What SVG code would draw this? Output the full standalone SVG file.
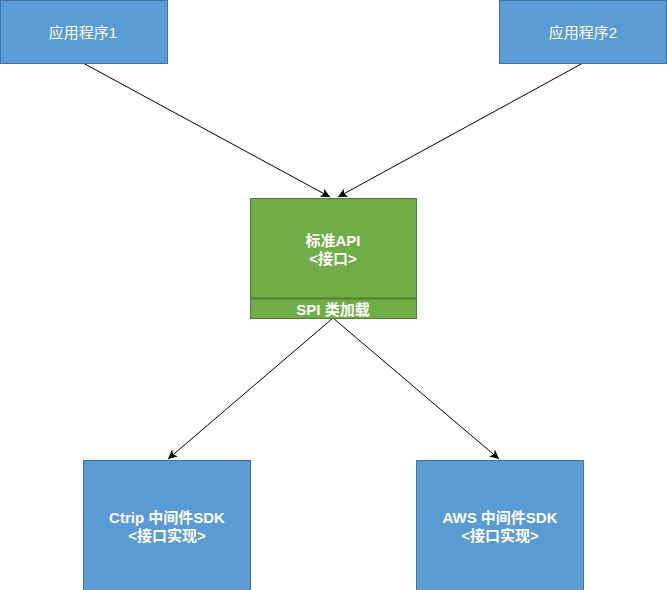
<svg xmlns="http://www.w3.org/2000/svg" width="667" height="590" viewBox="0 0 667 590">
<style>
.blue{fill:#5b9bd5;stroke:#41719c;stroke-width:1}
.green{fill:#70ad47;stroke:#507e32;stroke-width:1}
.t{fill:#ffffff;font-family:"Liberation Sans","Noto Sans CJK SC",sans-serif;font-size:15px;text-anchor:middle;dominant-baseline:central}
.b{font-weight:bold}
.c{stroke:#000;stroke-width:1;fill:none;marker-end:url(#ah)}
</style>
<defs>
<marker id="ah" markerWidth="12" markerHeight="12" refX="9" refY="4.5" orient="auto" markerUnits="userSpaceOnUse">
<path d="M0,0 L9,4.5 L0,9 L2,4.5 Z" fill="#000"/>
</marker>
</defs>
<rect width="667" height="590" fill="#ffffff"/>
<g id="connectors">
<line class="c" x1="83" y1="63" x2="330" y2="197"/>
<line class="c" x1="583" y1="63" x2="338" y2="197"/>
<line class="c" x1="333" y1="318" x2="168" y2="459"/>
<line class="c" x1="333" y1="318" x2="499" y2="459"/>
</g>
<g id="app1">
<rect class="blue" x="0.5" y="0.5" width="167" height="63"/>
<text class="t" x="83" y="32">应用程序1</text>
</g>
<g id="app2">
<rect class="blue" x="499.5" y="0.5" width="167" height="63"/>
<text class="t" x="583" y="32">应用程序2</text>
</g>
<g id="api">
<rect class="green" x="250.5" y="198.5" width="166" height="120"/>
<line x1="250.5" y1="298.5" x2="416.5" y2="298.5" stroke="#507e32" stroke-width="2"/>
<text class="t b" x="333" y="240">标准API</text>
<text class="t b" x="333" y="258">&lt;接口&gt;</text>
<text class="t b" x="333" y="309">SPI 类加载</text>
</g>
<g id="ctrip">
<rect class="blue" x="83.5" y="460.5" width="167" height="130"/>
<text class="t b" x="167" y="517">Ctrip 中间件SDK</text>
<text class="t b" x="167" y="535">&lt;接口实现&gt;</text>
</g>
<g id="aws">
<rect class="blue" x="416.5" y="460.5" width="167" height="130"/>
<text class="t b" x="500" y="517">AWS 中间件SDK</text>
<text class="t b" x="500" y="535">&lt;接口实现&gt;</text>
</g>
</svg>
